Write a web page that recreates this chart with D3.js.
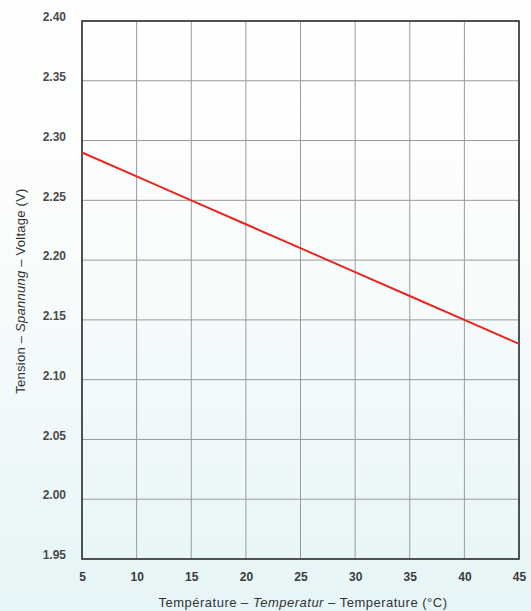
<!DOCTYPE html>
<html><head><meta charset="utf-8">
<script src="https://cdn.jsdelivr.net/npm/d3@7"></script>
<style>body{margin:0;}svg{display:block;}</style>
</head><body>
<script>
const temps = [5, 10, 15, 20, 25, 30, 35, 40, 45];
const voltages = [2.29, 2.27, 2.25, 2.23, 2.21, 2.19, 2.17, 2.15, 2.13];
const xTicks = [5, 10, 15, 20, 25, 30, 35, 40, 45];
const yTicks = [1.95, 2.00, 2.05, 2.10, 2.15, 2.20, 2.25, 2.30, 2.35, 2.40];
const W = 531, H = 611;
const m = {l: 82, r: 12, t: 21, b: 52};
const svg = d3.select("body").append("svg").attr("width", W).attr("height", H);
const defs = svg.append("defs");
const g = defs.append("linearGradient").attr("id","bg").attr("x1",0).attr("y1",0).attr("x2",0).attr("y2",1);
g.append("stop").attr("offset","0%").attr("stop-color","#ffffff");
g.append("stop").attr("offset","35%").attr("stop-color","#fbfdfd");
g.append("stop").attr("offset","100%").attr("stop-color","#e6f5f7");
svg.append("rect").attr("width",W).attr("height",H).attr("fill","url(#bg)");

const x = d3.scaleLinear().domain([5,45]).range([m.l, W - m.r]);
const y = d3.scaleLinear().domain([1.95,2.40]).range([H - m.b, m.t]);
const font = "'Liberation Sans Narrow','Arial Narrow','Liberation Sans',Arial,sans-serif";

// grid
svg.append("g").selectAll("line.v").data(xTicks).join("line")
  .attr("x1", d=>x(d)).attr("x2", d=>x(d)).attr("y1", y(2.40)).attr("y2", y(1.95))
  .attr("stroke","#9a9a9a").attr("stroke-width",1);
svg.append("g").selectAll("line.h").data(yTicks).join("line")
  .attr("y1", d=>y(d)).attr("y2", d=>y(d)).attr("x1", x(5)).attr("x2", x(45))
  .attr("stroke","#9a9a9a").attr("stroke-width",1);
// frame
svg.append("rect").attr("x", x(5)).attr("y", y(2.40)).attr("width", x(45)-x(5)).attr("height", y(1.95)-y(2.40))
  .attr("fill","none").attr("stroke","#333").attr("stroke-width",1.6);

// axes labels via d3 axes
const xAxis = svg.append("g").attr("transform",`translate(0,${y(1.95)})`)
  .call(d3.axisBottom(x).tickValues(xTicks).tickSize(0).tickPadding(13).tickFormat(d3.format("d")));
xAxis.select(".domain").remove();
xAxis.selectAll("text").attr("font-family",font).attr("font-size",12).attr("font-weight","bold").attr("fill","#3a3a3a");
const yAxis = svg.append("g").attr("transform",`translate(${x(5)},0)`)
  .call(d3.axisLeft(y).tickValues(yTicks).tickSize(0).tickPadding(16).tickFormat(d3.format(".2f")));
yAxis.select(".domain").remove();
yAxis.selectAll("text").attr("font-family",font).attr("font-size",12).attr("font-weight","bold").attr("fill","#4a4a4a").attr("dy","-0.02em");

// line
svg.append("path").datum(temps.map((t,i)=>[t,voltages[i]]))
  .attr("d", d3.line().x(d=>x(d[0])).y(d=>y(d[1])))
  .attr("fill","none").attr("stroke","#e8261e").attr("stroke-width",2);

// titles
const xt = svg.append("text").attr("x", 303).attr("y", 607).attr("text-anchor","middle")
  .attr("font-family","'Liberation Sans',Arial,sans-serif").attr("font-size",13).attr("letter-spacing",0.5).attr("fill","#333");
xt.append("tspan").text("Température – ");
xt.append("tspan").attr("font-style","italic").text("Temperatur");
xt.append("tspan").text(" – Temperature (°C)");

const yt = svg.append("text").attr("transform","translate(25,291) rotate(-90)").attr("text-anchor","middle")
  .attr("font-family","'Liberation Sans',Arial,sans-serif").attr("font-size",13).attr("letter-spacing",0.25).attr("fill","#333");
yt.append("tspan").text("Tension – ");
yt.append("tspan").attr("font-style","italic").text("Spannung");
yt.append("tspan").text(" – Voltage (V)");
</script>
</body></html>
